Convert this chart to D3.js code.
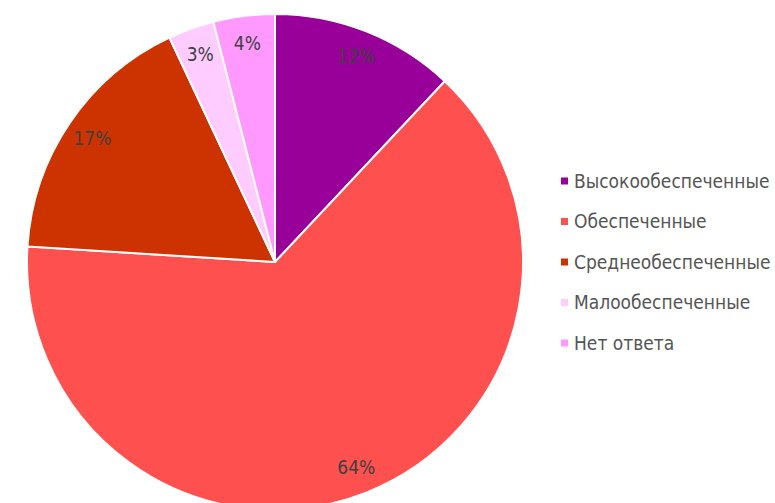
<!DOCTYPE html>
<html><head><meta charset="utf-8">
<script src="https://cdn.jsdelivr.net/npm/d3@7/dist/d3.min.js"></script>
<style>body{margin:0;background:#fff}</style>
</head><body>
<svg id="chart" width="775" height="503"></svg>
<script>
const categories = ["Высокообеспеченные","Обеспеченные","Среднеобеспеченные","Малообеспеченные","Нет ответа"];
const values = [12, 64, 17, 3, 4];
const labels = ["12%","64%","17%","3%","4%"];
const colors = ["#990099","#FF5050","#CC3300","#FFCCFF","#FF99FF"];

const svg = d3.select("#chart");
const cx = 275, cy = 262, r = 248;
const g = svg.append("g").attr("transform", `translate(${cx},${cy})`);
const pie = d3.pie().sort(null).value(d => d)(values);
const arc = d3.arc().innerRadius(0).outerRadius(r);
const labelArc = d3.arc().innerRadius(r*0.89).outerRadius(r*0.89);

g.selectAll("path").data(pie).join("path")
  .attr("d", arc)
  .attr("fill", (d,i) => colors[i])
  .attr("stroke", "#fff").attr("stroke-width", 2);

g.selectAll("text").data(pie).join("text")
  .attr("transform", d => `translate(${labelArc.centroid(d)})`)
  .attr("text-anchor", "middle").attr("dy", "0.35em")
  .style("font-family", "'DejaVu Sans Condensed','Liberation Sans Narrow',sans-serif")
  .style("font-size", "19px").attr("fill", "#404040")
  .text((d,i) => labels[i]);

const y = d3.scalePoint().domain(categories).range([181, 343]);
const lg = svg.append("g");
const items = lg.selectAll("g").data(categories).join("g")
  .attr("transform", d => `translate(561,${y(d)})`);
items.append("rect").attr("x", 0).attr("y", -3.5).attr("width", 7).attr("height", 7)
  .attr("fill", (d,i) => colors[i]);
items.append("text").attr("x", 13).attr("dy", "0.35em")
  .style("font-family", "'DejaVu Sans Condensed','Liberation Sans Narrow',sans-serif")
  .style("font-size", "19px").attr("fill", "#555555")
  .text(d => d);
</script>
</body></html>
